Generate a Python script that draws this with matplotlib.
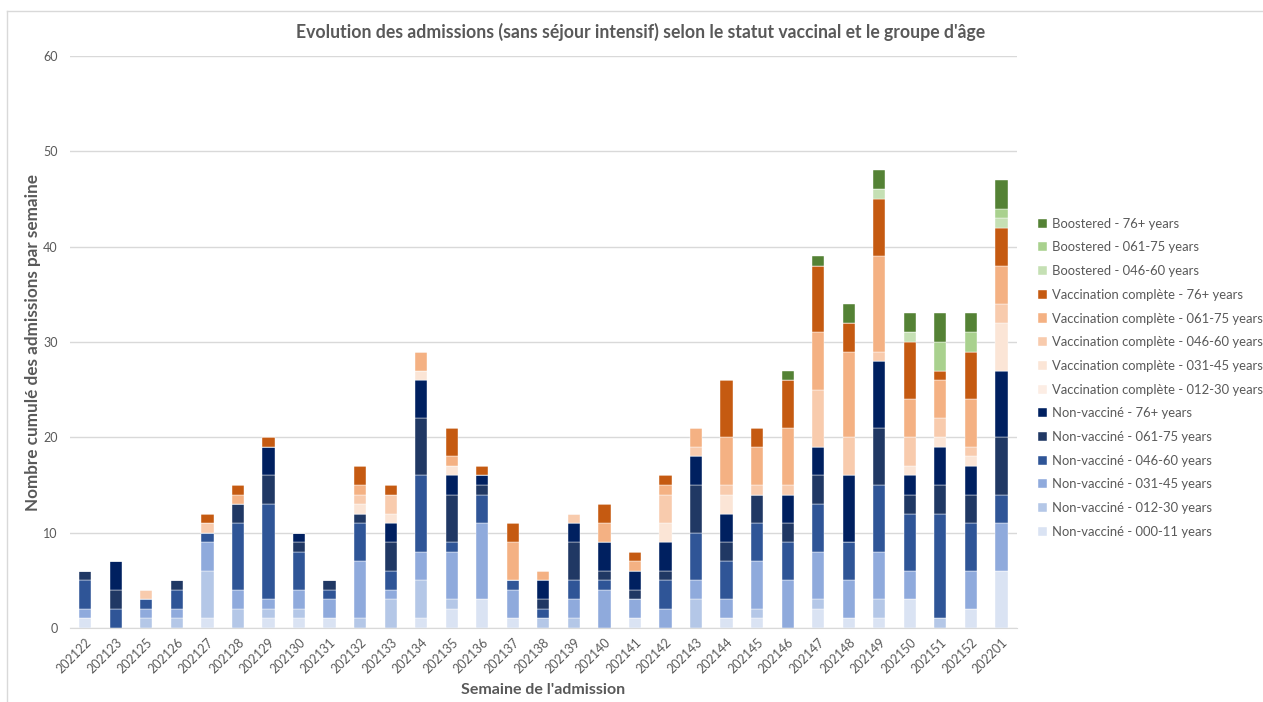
import matplotlib.pyplot as plt
from matplotlib.lines import Line2D
import numpy as np

plt.rcParams['font.family'] = ['Lato', 'DejaVu Sans']

weeks = ['202122', '202123', '202125', '202126', '202127', '202128', '202129', '202130',
         '202131', '202132', '202133', '202134', '202135', '202136', '202137', '202138',
         '202139', '202140', '202141', '202142', '202143', '202144', '202145', '202146',
         '202147', '202148', '202149', '202150', '202151', '202152', '202201']

# non vaccinés
nv_000_11 = [1, 0, 0, 0, 1, 0, 1, 1, 1, 0, 0, 1, 2, 3, 1, 0, 0, 0, 1, 0, 0, 1, 1, 0, 2, 1, 1, 3, 0, 2, 6]
nv_012_30 = [0, 0, 1, 1, 5, 2, 1, 1, 0, 1, 3, 4, 1, 0, 0, 1, 1, 0, 0, 0, 3, 0, 1, 0, 1, 0, 2, 0, 1, 0, 0]
nv_031_45 = [1, 0, 1, 1, 3, 2, 1, 2, 2, 6, 1, 3, 5, 8, 3, 0, 2, 4, 2, 2, 2, 2, 5, 5, 5, 4, 5, 3, 0, 4, 5]
nv_046_60 = [3, 2, 1, 2, 1, 7, 10, 4, 1, 4, 2, 8, 1, 3, 1, 1, 2, 1, 0, 3, 5, 4, 4, 4, 5, 4, 7, 6, 11, 5, 3]
nv_061_75 = [1, 2, 0, 1, 0, 2, 3, 1, 1, 1, 3, 6, 5, 1, 0, 1, 4, 1, 1, 1, 5, 2, 3, 2, 3, 0, 6, 2, 3, 3, 6]
nv_76 = [0, 3, 0, 0, 0, 0, 3, 1, 0, 0, 2, 4, 2, 1, 0, 2, 2, 3, 2, 3, 3, 3, 0, 3, 3, 7, 7, 2, 4, 3, 7]
# vaccination complète
vc_012_30 = [0] * 31
vc_031_45 = [0, 0, 0, 0, 0, 0, 0, 0, 0, 1, 1, 1, 1, 0, 0, 0, 0, 0, 0, 2, 0, 2, 0, 0, 0, 0, 0, 1, 1, 1, 5]
vc_046_60 = [0, 0, 1, 0, 1, 0, 0, 0, 0, 1, 2, 0, 0, 0, 0, 0, 1, 0, 0, 3, 1, 1, 1, 1, 6, 4, 1, 3, 2, 1, 2]
vc_061_75 = [0, 0, 0, 0, 0, 1, 0, 0, 0, 1, 0, 2, 1, 0, 4, 1, 0, 2, 1, 1, 2, 5, 4, 6, 6, 9, 10, 4, 4, 5, 4]
vc_76 = [0, 0, 0, 0, 1, 1, 1, 0, 0, 2, 1, 0, 3, 1, 2, 0, 0, 2, 1, 1, 0, 6, 2, 5, 7, 3, 6, 6, 1, 5, 4]
# boostered
b_046_60 = [0] * 26 + [1, 1, 0, 0, 1]
b_061_75 = [0] * 26 + [0, 0, 3, 2, 1]
b_76 = [0] * 23 + [1, 1, 2, 2, 2, 3, 2, 3]

series = [
    ('Non-vacciné - 000-11 years', nv_000_11, '#DAE3F3'),
    ('Non-vacciné - 012-30 years', nv_012_30, '#B4C7E7'),
    ('Non-vacciné - 031-45 years', nv_031_45, '#8FAADC'),
    ('Non-vacciné - 046-60 years', nv_046_60, '#2F5597'),
    ('Non-vacciné - 061-75 years', nv_061_75, '#203864'),
    ('Non-vacciné - 76+ years', nv_76, '#002060'),
    ('Vaccination complète - 012-30 years', vc_012_30, '#FCEDE4'),
    ('Vaccination complète - 031-45 years', vc_031_45, '#FBE5D6'),
    ('Vaccination complète - 046-60 years', vc_046_60, '#F8CBAD'),
    ('Vaccination complète - 061-75 years', vc_061_75, '#F4B183'),
    ('Vaccination complète - 76+ years', vc_76, '#C55A11'),
    ('Boostered - 046-60 years', b_046_60, '#C5E0B4'),
    ('Boostered - 061-75 years', b_061_75, '#A9D18E'),
    ('Boostered - 76+ years', b_76, '#548235'),
]

grey = '#595959'
fig = plt.figure(figsize=(12.63, 7.02), dpi=100)
ax = fig.add_axes([0.0554, 0.1054, 0.7496, 0.8148])

x = np.arange(len(weeks))
bottom = np.zeros(len(weeks))
handles = []
for name, vals, col in series:
    v = np.array(vals, dtype=float)
    b = ax.bar(x, v, 0.4, bottom=bottom, color=col, label=name,
               edgecolor='white', linewidth=0.3)
    handles.append(b)
    bottom += v

ax.set_xlim(-0.5, len(weeks) - 0.5)
ax.set_ylim(0, 60)
ax.set_yticks(range(0, 61, 10))
ax.grid(axis='y', color='#D9D9D9', linewidth=1)
ax.set_axisbelow(True)
for s in ['top', 'right', 'left']:
    ax.spines[s].set_visible(False)
ax.spines['bottom'].set_color('#D9D9D9')
ax.tick_params(axis='both', length=0, colors=grey, labelsize=9)
ax.set_xticks(x)
ax.set_xticklabels(weeks, rotation=45, ha='right', rotation_mode='anchor')
ax.tick_params(axis='x', pad=6)
ax.tick_params(axis='y', pad=9)

fig.text(0.507, 0.954, "Evolution des admissions (sans séjour intensif) selon le statut vaccinal et le groupe d'âge",
         ha='center', va='center', fontsize=12.7, fontweight='bold', color=grey)
ax.set_xlabel("Semaine de l'admission", fontsize=11.5, fontweight='bold', color=grey, labelpad=5)
ax.set_ylabel('Nombre cumulé des admissions par semaine', fontsize=12.3, fontweight='bold',
              color=grey, labelpad=1)

leg = fig.legend(handles[::-1], [s[0] for s in series][::-1], loc='upper left',
                 bbox_to_anchor=(0.8165, 0.699), frameon=False, fontsize=9.35,
                 handlelength=0.7, handleheight=0.7, handletextpad=0.4,
                 labelspacing=0.9, labelcolor=grey, borderpad=0)

# bordure du graphique (gauche et haut seulement)
fig.add_artist(Line2D([0.0055, 0.0055], [0, 0.984], transform=fig.transFigure,
                      color='#D9D9D9', linewidth=1))
fig.add_artist(Line2D([0.0055, 1], [0.984, 0.984], transform=fig.transFigure,
                      color='#D9D9D9', linewidth=1))

plt.savefig('out.png', dpi=100)
